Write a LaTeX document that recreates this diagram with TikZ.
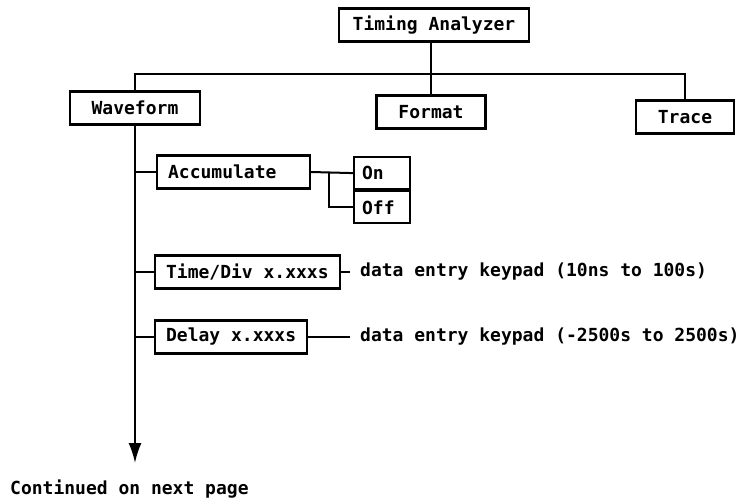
\documentclass[tikz,border=0pt]{standalone}
\usepackage{fontspec}
\setmonofont{DejaVu Sans Mono}
\usetikzlibrary{positioning,arrows.meta}
\newcommand{\menufont}{\ttfamily\bfseries\fontsize{18}{20}\selectfont}
\tikzset{
  menubox/.style={draw,line width=2.2pt,minimum height=33pt,inner xsep=11pt,font=\menufont},
  topbox/.style={menubox,inner xsep=22pt},
  optbox/.style={menubox,text width=40pt,inner xsep=8pt,minimum height=32pt,align=left},
  wire/.style={line width=2pt},
  note/.style={font=\menufont,inner sep=0pt,anchor=west}
}
\begin{document}
\begin{tikzpicture}[x=1pt,y=-1pt]
  \useasboundingbox (0,0) rectangle (745,503);
  % top level of the menu
  \node[menubox,inner xsep=14pt] (ta) at (434,25) {Timing Analyzer};
  \node[topbox] (wave) at (135,108) {Waveform};
  \node[topbox] (fmt) at (431,112) {Format};
  \node[topbox] (trc) at (685,117) {Trace};
  \coordinate (bus) at (431,74);
  \draw[line width=1.2pt] (fmt.north) -- (fmt.north |- ta.south);
  \draw[wire] (wave.north) |- (bus) -| (trc.north);
  % Waveform sub menu
  \node[menubox,anchor=west,text width=131pt,align=left] (acc) at (156,172) {Accumulate};
  \node[optbox,anchor=north west] (on) at (353,156) {On};
  \node[optbox,anchor=north] (off) at (on.south) {Off};
  \coordinate (split) at (329,172);
  \draw[wire] (acc.east) -- (on.west);
  \draw[wire] (split) |- (off.west);
  \node[menubox,anchor=west] (tdiv) at (154,272) {Time/Div x.xxxs};
  \node[note] (tnote) at (360,272) {data entry keypad (10ns to 100s)};
  \draw[wire] (tdiv.east) -- ([xshift=-10pt]tnote.west);
  \node[menubox,anchor=west] (dly) at (154,337) {Delay x.xxxs};
  \node[note] (dnote) at (360,337) {data entry keypad (-2500s to 2500s)};
  \draw[wire] (dly.east) -- ([xshift=-10pt]dnote.west);
  % main line of the Waveform menu
  \coordinate (wend) at (135,463);
  \draw[wire,-{Latex[length=20pt,width=13pt]}] (wave.south) -- (wend);
  \foreach \n in {acc,tdiv,dly}
    \draw[wire] (\n.west) -- (\n.west -| wave.south);
  \node[note] (cont) at (10,489) {Continued on next page};
\end{tikzpicture}
\end{document}
